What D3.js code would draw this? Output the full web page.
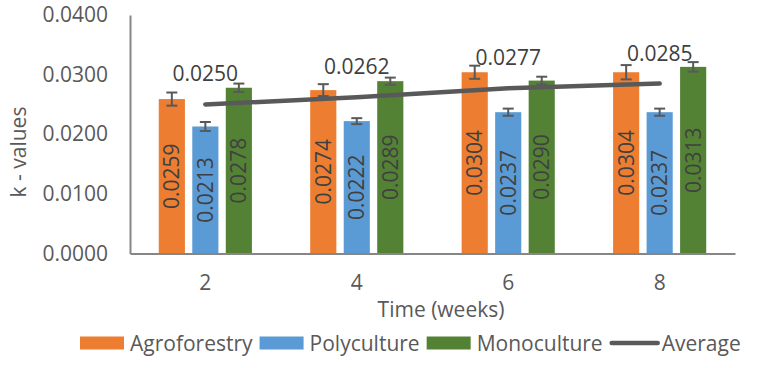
<!DOCTYPE html>
<html>
<head>
<meta charset="utf-8">
<script src="https://cdn.jsdelivr.net/npm/d3@7"></script>
<style>
  body { margin: 0; background: #fff; }
  svg text { font-family: "Open Sans", sans-serif; }
</style>
</head>
<body>
<div id="chart"></div>
<script>
'use strict';

var weeks = ["2", "4", "6", "8"];
var seriesNames = ["Agroforestry", "Polyculture", "Monoculture"];
var agroforestry = [0.0259, 0.0274, 0.0304, 0.0304];
var polyculture = [0.0213, 0.0222, 0.0237, 0.0237];
var monoculture = [0.0278, 0.0289, 0.0290, 0.0313];
var agroError = [0.0011, 0.0010, 0.0011, 0.0012];
var polyError = [0.00075, 0.0005, 0.0006, 0.0006];
var monoError = [0.0007, 0.0006, 0.00065, 0.0008];
var average = [0.0250, 0.0262, 0.0277, 0.0285];
var yTicks = [0, 0.01, 0.02, 0.03, 0.04];

var colors = ["#ED7D31", "#5B9BD5", "#548235"];
var lineColor = "#595959";

drawChart();

function drawChart() {
    var svgWidth = 778;
    var svgHeight = 368;
    var svg = d3.select("#chart")
        .append("svg")
        .attr("width", svgWidth)
        .attr("height", svgHeight);

    var left = 130, right = 735, top = 15, bottom = 253.5;

    var x = d3.scaleBand()
        .domain(weeks)
        .range([left, right])
        .paddingInner(0.385)
        .paddingOuter(0.19);

    var xInner = d3.scaleBand()
        .domain(seriesNames)
        .range([0, x.bandwidth()])
        .paddingInner(0.22);

    var y = d3.scaleLinear()
        .domain([0, 0.04])
        .range([bottom, top]);

    var values = [agroforestry, polyculture, monoculture];
    var errors = [agroError, polyError, monoError];

    var rows = [];
    weeks.forEach(function (w, i) {
        seriesNames.forEach(function (s, j) {
            rows.push({ week: w, series: s, idx: j, value: values[j][i], err: errors[j][i] });
        });
    });

    // bars
    svg.append("g").selectAll("rect")
        .data(rows)
        .enter()
        .append("rect")
        .attr("x", function (d) { return x(d.week) + xInner(d.series); })
        .attr("y", function (d) { return y(d.value); })
        .attr("width", xInner.bandwidth())
        .attr("height", function (d) { return y(0) - y(d.value); })
        .attr("fill", function (d) { return colors[d.idx]; });

    // error bars
    var eb = svg.append("g")
        .attr("stroke", lineColor)
        .attr("stroke-width", 2);
    rows.forEach(function (d) {
        var cx = x(d.week) + xInner(d.series) + xInner.bandwidth() / 2;
        var y1 = y(d.value + d.err), y2 = y(d.value - d.err);
        eb.append("line").attr("x1", cx).attr("x2", cx).attr("y1", y1).attr("y2", y2);
        eb.append("line").attr("x1", cx - 5.5).attr("x2", cx + 5.5).attr("y1", y1).attr("y2", y1);
        eb.append("line").attr("x1", cx - 5.5).attr("x2", cx + 5.5).attr("y1", y2).attr("y2", y2);
    });

    // bar value labels (rotated, centred in bar)
    svg.append("g").selectAll("text")
        .data(rows)
        .enter()
        .append("text")
        .attr("transform", function (d) {
            var cx = x(d.week) + xInner(d.series) + xInner.bandwidth() / 2;
            var cy = (y(d.value) + y(0)) / 2;
            return "translate(" + cx + "," + cy + ") rotate(-90)";
        })
        .attr("text-anchor", "middle")
        .attr("dy", "0.36em")
        .style("font-size", "21px")
        .style("fill", "#404040")
        .text(function (d) { return d.value.toFixed(4); });

    // axes
    var yAxis = d3.axisLeft(y).tickValues(yTicks).tickSize(0).tickPadding(22)
        .tickFormat(d3.format(".4f"));
    var gy = svg.append("g").attr("transform", "translate(" + left + ",0)").call(yAxis);
    gy.select(".domain").attr("stroke", "#868686").attr("stroke-width", 2);
    gy.selectAll("text").style("font-size", "21px").style("fill", "#595959")
        .style("font-family", "'Open Sans', sans-serif");

    var xAxis = d3.axisBottom(x).tickSize(0).tickPadding(22);
    var gx = svg.append("g").attr("transform", "translate(0," + bottom + ")").call(xAxis);
    gx.select(".domain").attr("stroke", "#868686").attr("stroke-width", 2);
    gx.selectAll("text").style("font-size", "21px").style("fill", "#595959")
        .style("font-family", "'Open Sans', sans-serif");

    // average line
    var line = d3.line()
        .x(function (d, i) { return x(weeks[i]) + x.bandwidth() / 2; })
        .y(function (d) { return y(d); });
    svg.append("path")
        .datum(average)
        .attr("d", line)
        .attr("fill", "none")
        .attr("stroke", lineColor)
        .attr("stroke-width", 4.5)
        .attr("stroke-linecap", "round");

    svg.append("g").selectAll("text")
        .data(average)
        .enter()
        .append("text")
        .attr("x", function (d, i) { return x(weeks[i]) + x.bandwidth() / 2; })
        .attr("y", function (d) { return y(d) - 23; })
        .attr("text-anchor", "middle")
        .style("font-size", "21px")
        .style("fill", "#404040")
        .text(function (d) { return d.toFixed(4); });

    // axis titles
    svg.append("text")
        .attr("transform", "translate(26,152) rotate(-90)")
        .attr("text-anchor", "middle")
        .style("font-size", "21px")
        .style("fill", "#595959")
        .text("k - values");

    svg.append("text")
        .attr("x", 441)
        .attr("y", 317)
        .attr("text-anchor", "middle")
        .style("font-size", "21px")
        .style("fill", "#595959")
        .text("Time (weeks)");

    // legend
    var legend = svg.append("g");
    var lx = 80, ly = 343;
    var items = seriesNames.concat(["Average"]);
    items.forEach(function (name, i) {
        if (i < 3) {
            legend.append("rect")
                .attr("x", lx).attr("y", ly - 6.5)
                .attr("width", 44).attr("height", 13)
                .attr("fill", colors[i]);
        } else {
            legend.append("line")
                .attr("x1", lx + 2).attr("x2", lx + 48)
                .attr("y1", ly).attr("y2", ly)
                .attr("stroke", lineColor)
                .attr("stroke-width", 4.5)
                .attr("stroke-linecap", "round");
        }
        var t = legend.append("text")
            .attr("x", lx + (i < 3 ? 50 : 52))
            .attr("y", ly)
            .attr("dy", "0.36em")
            .style("font-size", "21px")
            .style("fill", "#595959")
            .text(name);
        lx += (i < 3 ? 50 : 52) + t.node().getComputedTextLength() + 7;
    });
}
</script>
</body>
</html>
